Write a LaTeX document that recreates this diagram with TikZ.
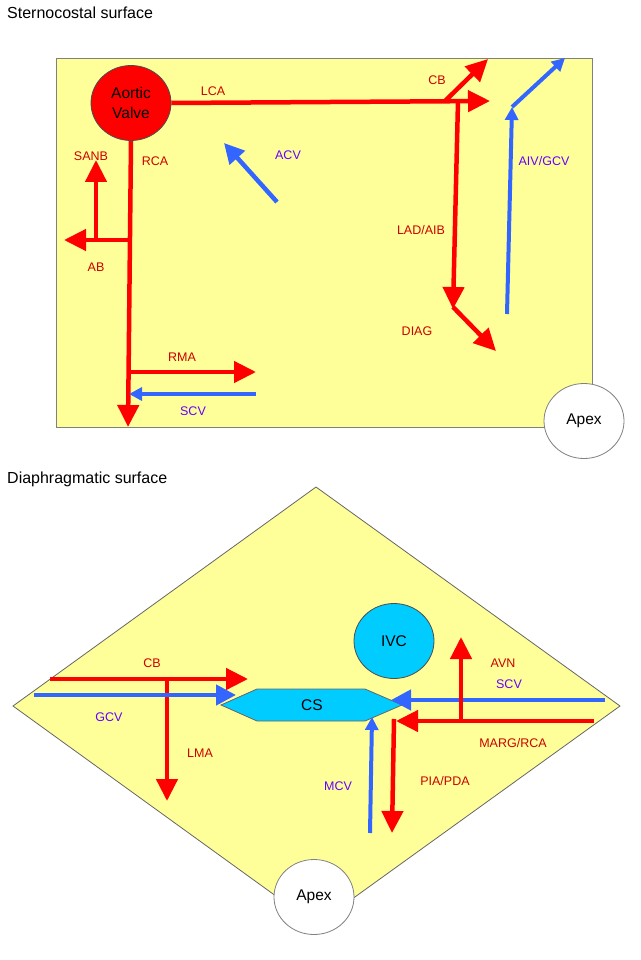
\documentclass[tikz,border=0pt]{standalone}
\usepackage{fontspec}
\setmainfont{Liberation Sans}
\usetikzlibrary{arrows.meta,shapes.geometric}
\definecolor{bgyel}{HTML}{FFFF99}
\definecolor{artred}{HTML}{FF0000}
\definecolor{veinblue}{HTML}{3366FF}
\definecolor{labred}{HTML}{CC0000}
\definecolor{labviolet}{HTML}{6600FF}
\definecolor{csblue}{HTML}{00CCFF}
\definecolor{edgegray}{HTML}{808080}
\begin{document}
\begin{tikzpicture}[x=1pt,y=-1pt,
  art/.style={draw=artred, line width=4.5pt, -{Triangle[length=22pt,width=21pt]}},
  vein/.style={draw=veinblue, line width=4pt, -{Triangle[length=13pt,width=13pt]}},
  veinbig/.style={draw=veinblue, line width=4.5pt, -{Triangle[length=20pt,width=20pt]}},
  alab/.style={text=labred, font=\fontsize{12.5}{14}\selectfont, inner sep=0pt},
  vlab/.style={text=labviolet, font=\fontsize{12.5}{14}\selectfont, inner sep=0pt},
  title/.style={font=\fontsize{16}{18}\selectfont, anchor=west, inner sep=0pt},
  organ/.style={ellipse, draw=black!70, line width=0.8pt, minimum width=80pt, minimum height=75pt, inner sep=0pt, align=center, font=\fontsize{15.5}{20}\selectfont}
]
\useasboundingbox (0,0) rectangle (640,960);
\fill[white] (0,0) rectangle (640,960);

% ===== Sternocostal surface =====
\node[title] (t1) at (7,13) {Sternocostal surface};
\draw[fill=bgyel, draw=edgegray, line width=1pt] (56,59) rectangle (592,427);
\node[organ, fill=white, draw=edgegray] (apex1) at (584,421) {Apex};
\node[organ, fill=artred] (av) at (131,103) {Aortic\\Valve};

% coordinates
\coordinate (lcaend) at (490,101);
\coordinate (cbstart) at (445,101);
\coordinate (cbend) at (488,59);
\coordinate (ladtop) at (458,101);
\coordinate (ladend) at (453,309);
\coordinate (diagstart) at (453,307);
\coordinate (diagend) at (496,351);
\coordinate (aivstart) at (507,314);
\coordinate (aivend) at (512,107);
\coordinate (gcvstart) at (512,107);
\coordinate (gcvend) at (565,58);
\coordinate (acvstart) at (277,202);
\coordinate (acvend) at (224,143);
\coordinate (rcaend) at (128,427);
\coordinate (abstart) at (129,240);
\coordinate (abend) at (64,240);
\coordinate (sanbstart) at (96,242);
\coordinate (sanbend) at (96,160);
\coordinate (rmastart) at (128,372);
\coordinate (rmaend) at (256,372);
\coordinate (scvstart) at (256,394);
\coordinate (scvend) at (129,394);

\draw[art] (av.east) -- (lcaend);
\draw[art] (cbstart) -- (cbend);
\draw[art] (ladtop) -- (ladend);
\draw[art] (diagstart) -- (diagend);
\draw[vein] (aivstart) -- (aivend);
\draw[vein] (gcvstart) -- (gcvend);
\draw[veinbig] (acvstart) -- (acvend);
\draw[art] (av.south) -- (rcaend);
\draw[art] (abstart) -- (abend);
\draw[art] (sanbstart) -- (sanbend);
\draw[art] (rmastart) -- (rmaend);
\draw[vein] (scvstart) -- (scvend);

\node[alab] (llca) at (213,91) {LCA};
\node[alab] (lcb1) at (437,80) {CB};
\node[alab] (llad) at (421,230) {LAD/AIB};
\node[alab] (ldiag) at (417,331) {DIAG};
\node[vlab] (laiv) at (544,161) {AIV/GCV};
\node[vlab] (lacv) at (288,155) {ACV};
\node[alab] (lrca) at (155,161) {RCA};
\node[alab] (lsanb) at (91,156) {SANB};
\node[alab] (lab) at (96,267) {AB};
\node[alab] (lrma) at (182,357) {RMA};
\node[vlab] (lscv1) at (193,411) {SCV};

% ===== Diaphragmatic surface =====
\node[title] (t2) at (7,479) {Diaphragmatic surface};
\draw[fill=bgyel, draw=black!60, line width=0.8pt] (316,487) -- (620,706) -- (316,925) -- (13,706) -- cycle;
\node[organ, fill=white, draw=edgegray] (apex2) at (314,897) {Apex};
\node[organ, fill=csblue] (ivc) at (394,641) {IVC};
\draw[fill=csblue, draw=black!60, line width=0.8pt] (221,705) -- (257,689) -- (365,689) -- (402,705) -- (365,721) -- (257,721) -- cycle;
\node[font=\fontsize{15.5}{18}\selectfont, inner sep=0pt] (cs) at (312,705) {CS};

\coordinate (cbbstart) at (50,679);
\coordinate (cbbend) at (248,679);
\coordinate (lmatop) at (167,679);
\coordinate (lmaend) at (167,801);
\coordinate (gcvbstart) at (34,695);
\coordinate (gcvbend) at (236,695);
\coordinate (scvbstart) at (605,700);
\coordinate (scvbend) at (391,700);
\coordinate (avnstart) at (461,722);
\coordinate (avnend) at (461,637);
\coordinate (margstart) at (594,721);
\coordinate (margend) at (396,721);
\coordinate (piatop) at (394,719);
\coordinate (piaend) at (392,833);
\coordinate (mcvstart) at (370,833);
\coordinate (mcvend) at (372,717);

\draw[art] (cbbstart) -- (cbbend);
\draw[art] (lmatop) -- (lmaend);
\draw[veinbig] (gcvbstart) -- (gcvbend);
\draw[veinbig] (scvbstart) -- (scvbend);
\draw[art] (avnstart) -- (avnend);
\draw[art] (margstart) -- (margend);
\draw[art] (piatop) -- (piaend);
\draw[vein] (mcvstart) -- (mcvend);

\node[alab] (lcb2) at (152,663) {CB};
\node[vlab] (lgcv) at (109,717) {GCV};
\node[alab] (llma) at (200,753) {LMA};
\node[alab] (lavn) at (503,663) {AVN};
\node[vlab] (lscv2) at (509,684) {SCV};
\node[alab] (lmarg) at (513,743) {MARG/RCA};
\node[alab] (lpia) at (445,781) {PIA/PDA};
\node[vlab] (lmcv) at (338,786) {MCV};
\end{tikzpicture}
\end{document}
